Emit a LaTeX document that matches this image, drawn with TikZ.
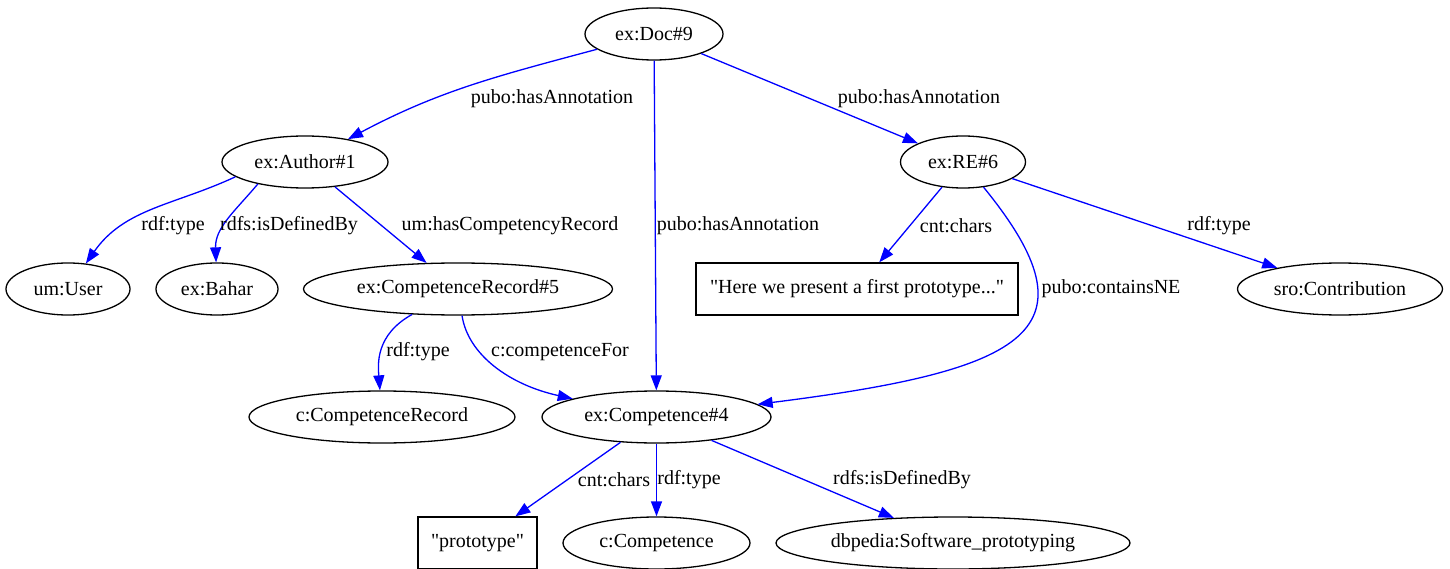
\documentclass[tikz,border=0pt]{standalone}
\usepackage{fontspec}
\setmainfont{Liberation Serif}
\usetikzlibrary{shapes.geometric,arrows.meta}

\begin{document}
\begin{tikzpicture}[x=1pt,y=1pt,
	font=\fontsize{20}{24}\selectfont,
	res/.style={ellipse,draw,line width=1.3pt,minimum height=52pt,inner sep=0pt},
	lit/.style={rectangle,draw,line width=1.3pt,minimum height=52pt,inner sep=0pt},
	prop/.style={blue,line width=1.3pt,-{Triangle[length=15pt,width=11pt]}},
	lbl/.style={inner sep=0pt}]
	\useasboundingbox (0,0) rectangle (1450,-569);
	% resources and literals
	\node[res,minimum width=138pt] (doc) at (654,-34) {ex:Doc\#9};
	\node[res,minimum width=166pt] (author) at (305,-162) {ex:Author\#1};
	\node[res,minimum width=125pt] (re) at (963,-162) {ex:RE\#6};
	\node[res,minimum width=124pt] (user) at (68,-289) {um:User};
	\node[res,minimum width=122pt] (bahar) at (217,-289) {ex:Bahar};
	\node[res,minimum width=309pt] (record) at (458,-289) {ex:CompetenceRecord\#5};
	\node[lit,minimum width=322pt] (chars) at (857,-289) {\textquotedbl Here we present a first prototype...\textquotedbl};
	\node[res,minimum width=205pt] (contrib) at (1340,-289) {sro:Contribution};
	\node[res,minimum width=266pt] (rectype) at (382,-417) {c:CompetenceRecord};
	\node[res,minimum width=229pt] (comp) at (656.5,-417) {ex:Competence\#4};
	\node[lit,minimum width=119pt] (word) at (477.5,-543) {\textquotedbl prototype\textquotedbl};
	\node[res,minimum width=187pt] (comptype) at (656.5,-543) {c:Competence};
	\node[res,minimum width=354pt] (dbp) at (953,-543) {dbpedia:Software\_prototyping};
	% properties
	\draw[prop] (doc) to[out=195,in=28] (author);
	\draw[prop] (doc) -- (re);
	\draw[prop] (doc) -- (comp);
	\draw[prop] (author.192) to[out=205,in=55] (user);
	\draw[prop] (author.205) to[out=230,in=92] (bahar);
	\draw[prop] (author) -- (record);
	\draw[prop] (re) -- (chars);
	\draw[prop] (re) -- (contrib);
	\draw[prop] (re) .. controls (1100,-330) and (1030,-370) .. (comp);
	\draw[prop] (record) .. controls (375,-335) and (378,-365) .. (rectype);
	\draw[prop] (record) .. controls (468,-355) and (510,-385) .. (comp);
	\draw[prop] (comp) -- (word);
	\draw[prop] (comp) -- (comptype);
	\draw[prop] (comp) -- (dbp);
	% labels
	\node[lbl] (l1) at (552,-99) {pubo:hasAnnotation};
	\node[lbl] (l2) at (919,-99) {pubo:hasAnnotation};
	\node[lbl] (l3) at (738,-226) {pubo:hasAnnotation};
	\node[lbl] (l4) at (173,-226) {rdf:type};
	\node[lbl] (l5) at (289,-226) {rdfs:isDefinedBy};
	\node[lbl] (l6) at (510,-226) {um:hasCompetencyRecord};
	\node[lbl] (l7) at (956,-226) {cnt:chars};
	\node[lbl] (l8) at (1219,-226) {rdf:type};
	\node[lbl] (l9) at (1111,-289) {pubo:containsNE};
	\node[lbl] (l10) at (418,-352) {rdf:type};
	\node[lbl] (l11) at (560,-352) {c:competenceFor};
	\node[lbl] (l12) at (614,-480) {cnt:chars};
	\node[lbl] (l13) at (689,-480) {rdf:type};
	\node[lbl] (l14) at (902,-480) {rdfs:isDefinedBy};
\end{tikzpicture}
\end{document}
